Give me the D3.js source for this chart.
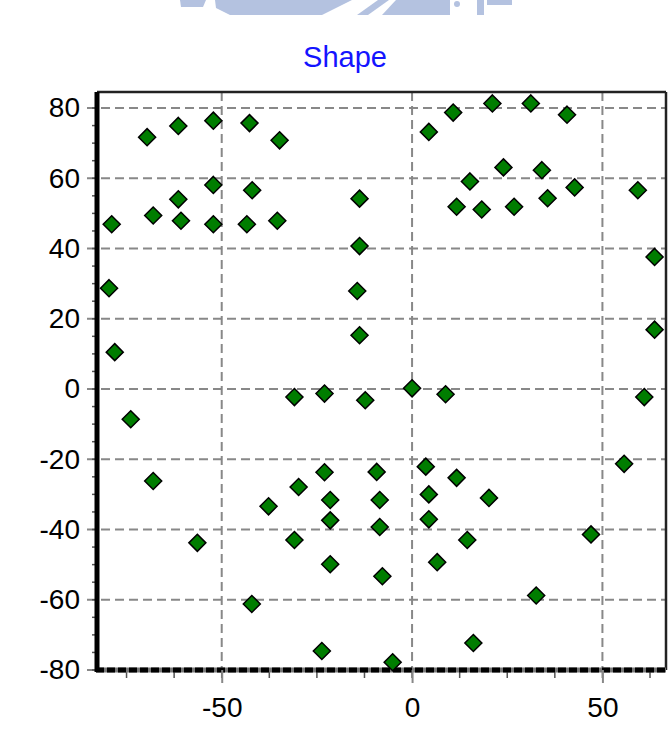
<!DOCTYPE html>
<html>
<head>
<meta charset="utf-8">
<script src="https://cdn.jsdelivr.net/npm/d3@7"></script>
<style>
  body { margin: 0; background: #fff; }
  text { font-family: "Liberation Sans", Arial, sans-serif; }
</style>
</head>
<body>
<div id="chart"></div>
<script>
// data
var xs = [-69.6, -61.4, -52.2, -42.7, -34.8, -52.2, -42.0, -61.4, -78.9, -68.0,
          -60.7, -52.2, -43.4, -35.4, -13.8, -13.8, -79.6, -14.4, -78.1, -13.8,
          4.4, 10.8, 21.1, 31.2, 40.7, 24.0, 34.1, 15.2, 42.7, 59.3,
          11.7, 18.3, 26.8, 35.6, 63.7, 63.7,
          -73.9, -30.9, -23.0, -12.3, -68.0, -23.0, -29.8, -21.5, -21.5, -37.7,
          -30.9, -56.4, -21.5, -42.1, -23.7,
          0.0, 8.8, 61.0, 55.7, -9.3, 3.6, 11.7, -8.5, 4.4, 20.2,
          -8.5, 4.4, 14.5, 47.0, -7.8, 6.6, 32.6, 16.1, -5.1];
var ys = [71.7, 74.9, 76.4, 75.7, 70.8, 58.1, 56.6, 54.0, 46.9, 49.4,
          47.9, 46.9, 46.9, 47.9, 54.2, 40.7, 28.7, 27.9, 10.5, 15.3,
          73.2, 78.7, 81.3, 81.3, 78.1, 63.1, 62.3, 59.1, 57.4, 56.6,
          51.9, 51.1, 51.9, 54.3, 37.6, 16.9,
          -8.6, -2.3, -1.3, -3.2, -26.2, -23.7, -27.9, -31.6, -37.4, -33.4,
          -43.0, -43.8, -49.9, -61.2, -74.6,
          0.2, -1.5, -2.3, -21.3, -23.6, -22.1, -25.3, -31.6, -30.0, -31.0,
          -39.3, -37.1, -43.0, -41.4, -53.3, -49.3, -58.8, -72.3, -77.8];

var xTicks = [-50, 0, 50];
var yTicks = [-80, -60, -40, -20, 0, 20, 40, 60, 80];
var xMinor = [-75, -62.5, -50, -37.5, -25, -12.5, 0, 12.5, 25, 37.5, 50, 62.5];
var yMinor = d3.range(-80, 85, 5);
var title = "Shape";

var W = 672, H = 751;
var margin = {top: 92, right: 6, bottom: 81, left: 97},
    width = W - margin.left - margin.right,
    height = H - margin.top - margin.bottom;

var svg = d3.select("#chart").append("svg")
    .attr("width", W)
    .attr("height", H);

// faint watermark at the very top
var wm = svg.append("g").attr("fill", "#b4c2e0");
[
  [[180,0],[206,0],[203,7],[181,7]],
  [[215,0],[352,0],[340,6],[322,15],[230,15],[216,8]],
  [[357,15],[368,15],[389,0],[378,0]],
  [[396,0],[450,0],[450,15],[382,15]],
  [[477,0],[484,0],[484,15],[477,15]],
  [[487,0],[512,0],[512,5],[487,5]]
].forEach(function(p){ wm.append("polygon").attr("points", p.join(" ")); });
wm.append("circle").attr("cx", 457).attr("cy", 4).attr("r", 3);

var g = svg.append("g")
    .attr("transform", "translate(" + margin.left + "," + margin.top + ")");

var x = d3.scaleLinear().domain([-82.76, 66.7]).range([0, width]);
var y = d3.scaleLinear().domain([-80, 84.56]).range([height, 0]);

// plain hyphen minus, like the original
var fmt = function(d) { return String(d); };

// title
svg.append("text")
    .attr("x", 345).attr("y", 67)
    .attr("text-anchor", "middle")
    .attr("fill", "#1414ff")
    .style("font-size", "29px")
    .text(title);

// grid
g.selectAll(".ygrid").data(yTicks).enter().append("line")
    .attr("x1", -10).attr("x2", width)
    .attr("y1", d => y(d)).attr("y2", d => y(d))
    .attr("stroke", "#888").attr("stroke-width", 2)
    .attr("stroke-dasharray", "9,5");
g.selectAll(".xgrid").data(xTicks).enter().append("line")
    .attr("x1", d => x(d)).attr("x2", d => x(d))
    .attr("y1", 0).attr("y2", height)
    .attr("stroke", "#888").attr("stroke-width", 2)
    .attr("stroke-dasharray", "9,5");

// minor ticks
g.selectAll(".yminor").data(yMinor).enter().append("line")
    .attr("x1", -5).attr("x2", 0)
    .attr("y1", d => y(d)).attr("y2", d => y(d))
    .attr("stroke", "#555").attr("stroke-width", 1.5);
g.selectAll(".xminor").data(xMinor).enter().append("line")
    .attr("x1", d => x(d)).attr("x2", d => x(d))
    .attr("y1", height).attr("y2", height + 8)
    .attr("stroke", "#555").attr("stroke-width", 1.5);

// borders
g.append("line").attr("x1", 0).attr("x2", width).attr("y1", 0).attr("y2", 0)
    .attr("stroke", "#222").attr("stroke-width", 2.5);
g.append("line").attr("x1", width).attr("x2", width).attr("y1", 0).attr("y2", height)
    .attr("stroke", "#222").attr("stroke-width", 2.5);
g.append("line").attr("x1", -1).attr("x2", width).attr("y1", height).attr("y2", height)
    .attr("stroke", "#777").attr("stroke-width", 5);
g.append("line").attr("x1", -1).attr("x2", width).attr("y1", height).attr("y2", height)
    .attr("stroke", "#000").attr("stroke-width", 5)
    .attr("stroke-dasharray", "8,3");
g.append("line").attr("x1", 0).attr("x2", 0).attr("y1", 0).attr("y2", height + 2)
    .attr("stroke", "#000").attr("stroke-width", 5);

// axes (labels + major ticks)
var xAxis = g.append("g")
    .attr("transform", "translate(0," + height + ")")
    .call(d3.axisBottom(x).tickValues(xTicks).tickSize(13).tickPadding(14).tickFormat(fmt));
xAxis.select(".domain").remove();
xAxis.selectAll(".tick line").attr("stroke", "#888").attr("stroke-width", 2);
xAxis.selectAll("text").attr("fill", "#000").style("font-size", "28px");

var yAxis = g.append("g")
    .call(d3.axisLeft(y).tickValues(yTicks).tickSize(0).tickPadding(17).tickFormat(fmt));
yAxis.select(".domain").remove();
yAxis.selectAll("text").attr("fill", "#000").style("font-size", "28px");

// points
var diamond = d3.symbol().type(d3.symbolDiamond2).size(185);
g.selectAll(".pt").data(d3.range(xs.length)).enter().append("path")
    .attr("d", diamond)
    .attr("transform", i => "translate(" + x(xs[i]) + "," + y(ys[i]) + ")")
    .attr("fill", "#007d00")
    .attr("stroke", "#000")
    .attr("stroke-width", 1.5);
</script>
</body>
</html>
